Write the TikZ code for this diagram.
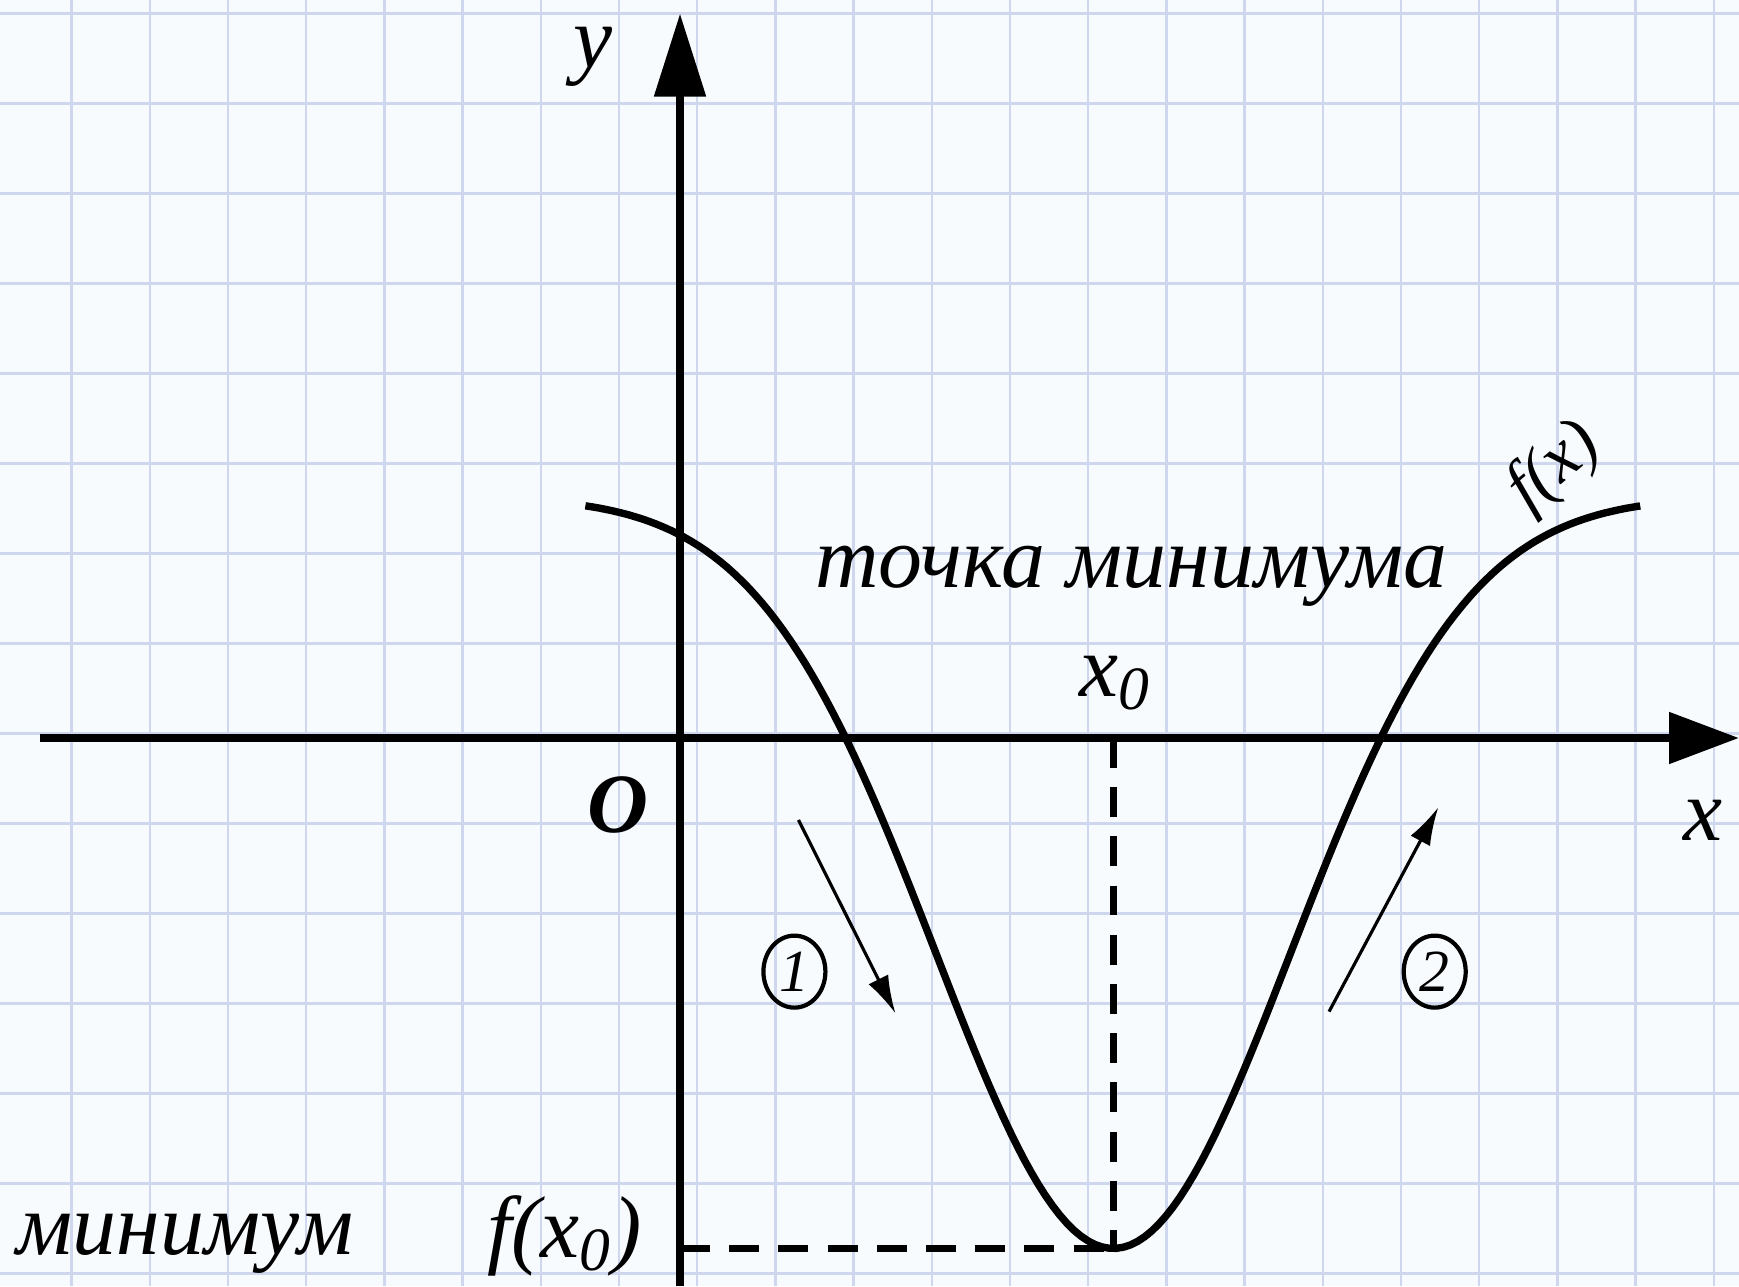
\documentclass[tikz,border=0pt]{standalone}
\usepackage{fontspec}
\setmainfont{Liberation Serif}
\usetikzlibrary{arrows.meta,shapes.geometric}

\definecolor{gridblue}{RGB}{206,215,238}
\definecolor{paper}{RGB}{248,251,254}

\begin{document}
\begin{tikzpicture}[
  x=0.782cm,
  y=0.9cm,
  gridline/.style={draw=gridblue, line width=0.7pt},
  axisline/.style={line width=2.4pt},
  curve/.style={line width=2.1pt},
  guide/.style={line width=2.1pt, dash pattern=on 8.5pt off 5.5pt},
  hint/.style={line width=0.9pt, -{Latex[length=3.8mm,width=2.2mm]}},
  numlabel/.style={ellipse, draw, line width=1.2pt, inner sep=0pt,
    minimum width=0.62cm, minimum height=0.72cm,
    font=\fontsize{17}{17}\selectfont\itshape},
  label/.style={font=\fontsize{25}{29}\selectfont\itshape, inner sep=0pt}
]
% paper and grid
\fill[paper] (-8.696,-6.089) rectangle (13.542,8.2);
\useasboundingbox (-8.696,-6.089) rectangle (13.542,8.2);
\foreach \x in {-8,...,13}
  \draw[gridline] (\x+0.22,-6.089) -- (\x+0.22,8.2);
\foreach \y in {-6,...,8}
  \draw[gridline] (-8.696,\y+0.05) -- (13.542,\y+0.05);

% axes
\coordinate (xbeg) at (-8.18,0);
\coordinate (xtip) at (13.542,0);
\coordinate (ybeg) at (0,-6.089);
\coordinate (ytip) at (0,8.05);
\draw[axisline, -{Triangle[length=7mm,width=5mm]}] (xbeg) -- (xtip);
\draw[axisline, -{Triangle[length=8.3mm,width=5mm]}] (ybeg) -- (ytip);

% graph of f
\draw[curve, domain=-1.21:12.28, samples=150]
  plot (\x,{2.68-8.35*exp(-(\x-5.54)*(\x-5.54)/10.304)});

% minimum point
\coordinate (M) at (5.54,-5.67);
\coordinate (X0) at (5.54,0);
\coordinate (Y0) at (0,-5.67);
\draw[guide] (X0) -- (M);
\draw[guide] (Y0) -- (M);

% decreasing / increasing
\coordinate (h1a) at (1.515,-0.911);
\coordinate (h1b) at (2.755,-3.06);
\coordinate (h2a) at (8.30,-3.04);
\coordinate (h2b) at (9.697,-0.77);
\draw[hint] (h1a) -- (h1b);
\draw[hint] (h2a) -- (h2b);
\node[numlabel] (n1) at (1.463,-2.596) {1};
\node[numlabel] (n2) at (9.651,-2.596) {2};

% labels
\node[label] (ylab) at (-1.11,7.57) {y};
\node[label] (xlab) at (13.08,-0.91) {x};
\node[label, font=\fontsize{24}{28}\selectfont\bfseries\itshape] (olab) at (-0.789,-0.744) {O};
\node[label, anchor=base] (x0lab) at (5.56,0.46) {x\textsubscript{0}};
\node[label, anchor=base] (pointlab) at (5.77,1.667) {точка минимума};
\node[label, font=\fontsize{20}{24}\selectfont\itshape, rotate=40] (flab) at (11.19,3.0) {f(x)};
\node[label, anchor=base] (fx0lab) at (-1.48,-5.77) {f(x\textsubscript{0})};
\node[label, anchor=base] (minlab) at (-6.33,-5.74) {минимум};
\end{tikzpicture}
\end{document}
